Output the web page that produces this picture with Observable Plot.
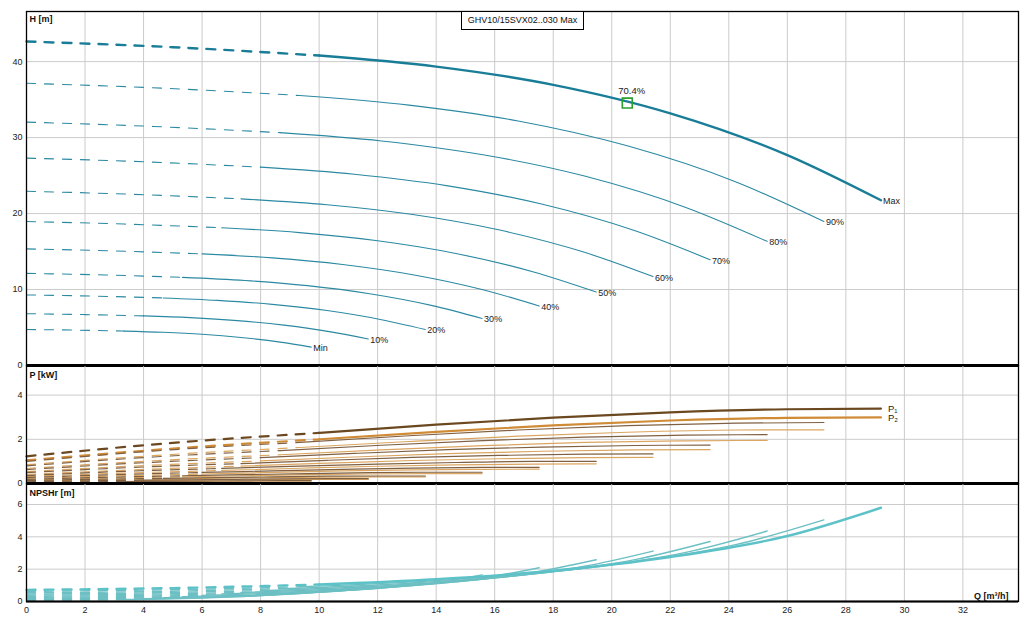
<!DOCTYPE html>
<html><head><meta charset="utf-8">
<script src="https://cdn.jsdelivr.net/npm/d3@7"></script>
<script src="https://cdn.jsdelivr.net/npm/@observablehq/plot@0.6"></script>
<style>
body{margin:0;background:#fff;font-family:"Liberation Sans",Arial,sans-serif;}
#chart{position:relative;width:1030px;height:630px;overflow:hidden;background:#fff;}
.panel{position:absolute;left:0;}
#title{position:absolute;left:461px;top:11px;width:121px;height:17px;border:1px solid #000;background:#fff;font-size:9px;line-height:17px;text-align:center;color:#111;}
</style></head><body>
<div id="chart">
 <div class="panel" id="pH" style="top:0"></div>
 <div class="panel" id="pP" style="top:365px"></div>
 <div class="panel" id="pN" style="top:483px"></div>
 <div id="title"></div>
</div>
<script>
// ---- texts ----
const chartTitle = "GHV10/15SVX02..030 Max";
const hTitle = "H [m]";
const pTitle = "P [kW]";
const nTitle = "NPSHr [m]";
const qTitle = "Q [m³/h]";
const pLabels = ["P₁", "P₂"];

// ---- ticks & domains ----
const qTicks = [0,2,4,6,8,10,12,14,16,18,20,22,24,26,28,30,32];
const hTicks = [0,10,20,30,40];
const pTicks = [0,2,4];
const nTicks = [0,2,4,6];
const qDomain = [0, 33.9];
const hDomain = [0, 46.6];
const pDomain = [0, 5.34];
const nDomain = [0, 7.3];

// ---- curve family ----
const curveLabels = ["Max","90%","80%","70%","60%","50%","40%","30%","20%","10%","Min"];
const solidFrom = 2; // point index where the dashed part ends and solid part starts

const qCurves = [
 [0,5,10,14,18,22,26,29.2],
 [0,4.67,9.33,13.07,16.8,20.53,24.27,27.25],
 [0,4.33,8.67,12.13,15.6,19.07,22.53,25.31],
 [0,4,8,11.2,14.4,17.6,20.8,23.36],
 [0,3.67,7.33,10.27,13.2,16.13,19.07,21.41],
 [0,3.33,6.67,9.33,12,14.67,17.33,19.47],
 [0,3,6,8.4,10.8,13.2,15.6,17.52],
 [0,2.67,5.33,7.47,9.6,11.73,13.87,15.57],
 [0,2.33,4.67,6.53,8.4,10.27,12.13,13.63],
 [0,2,4,5.6,7.2,8.8,10.4,11.68],
 [0,1.67,3.33,4.67,6,7.33,8.67,9.73]
];
const hCurves = [
 [42.65,41.9,40.8,39.35,36.95,33.2,27.7,21.75],
 [37.15,36.5,35.54,34.28,32.19,28.92,24.13,18.95],
 [32.04,31.47,30.65,29.56,27.75,24.94,20.81,16.34],
 [27.3,26.82,26.11,25.18,23.65,21.25,17.73,13.92],
 [22.94,22.53,21.94,21.16,19.87,17.86,14.9,11.7],
 [18.95,18.62,18.13,17.49,16.42,14.75,12.31,9.67],
 [15.35,15.08,14.69,14.17,13.3,11.95,9.97,7.83],
 [12.13,11.92,11.6,11.19,10.51,9.44,7.88,6.19],
 [9.29,9.13,8.89,8.57,8.05,7.23,6.03,4.74],
 [6.82,6.7,6.53,6.3,5.91,5.31,4.43,3.48],
 [4.74,4.66,4.53,4.37,4.11,3.69,3.08,2.42]
];
const p1Curves = [
 [1.23,1.84,2.29,2.66,2.98,3.22,3.36,3.39],
 [1.0,1.5,1.86,2.16,2.42,2.62,2.73,2.76],
 [0.8,1.2,1.49,1.73,1.94,2.1,2.19,2.21],
 [0.63,0.94,1.17,1.36,1.53,1.65,1.72,1.74],
 [0.49,0.73,0.9,1.05,1.18,1.27,1.33,1.34],
 [0.36,0.55,0.68,0.79,0.88,0.95,1.0,1.0],
 [0.27,0.4,0.5,0.57,0.64,0.7,0.73,0.73],
 [0.19,0.28,0.35,0.4,0.45,0.49,0.51,0.51],
 [0.13,0.19,0.23,0.27,0.3,0.33,0.34,0.34],
 [0.08,0.12,0.15,0.17,0.19,0.21,0.22,0.22],
 [0.05,0.07,0.09,0.1,0.11,0.12,0.13,0.13]
];
const p2Curves = [
 [1.05,1.58,2.0,2.34,2.63,2.85,2.97,2.99],
 [0.85,1.29,1.63,1.9,2.14,2.32,2.42,2.43],
 [0.68,1.03,1.3,1.52,1.71,1.86,1.93,1.95],
 [0.54,0.81,1.02,1.2,1.35,1.46,1.52,1.53],
 [0.41,0.62,0.79,0.92,1.04,1.12,1.17,1.18],
 [0.31,0.47,0.59,0.69,0.78,0.84,0.88,0.89],
 [0.23,0.34,0.43,0.5,0.57,0.62,0.64,0.65],
 [0.16,0.24,0.3,0.35,0.4,0.43,0.45,0.45],
 [0.11,0.16,0.2,0.24,0.27,0.29,0.3,0.3],
 [0.07,0.1,0.13,0.15,0.17,0.18,0.19,0.19],
 [0.04,0.06,0.07,0.09,0.1,0.11,0.11,0.11]
];
const npshCurves = [
 [0.72,0.83,1.05,1.38,1.9,2.75,4.05,5.8],
 [0.63,0.72,0.91,1.2,1.66,2.4,3.53,5.05],
 [0.54,0.62,0.79,1.04,1.43,2.07,3.04,4.36],
 [0.46,0.53,0.67,0.88,1.22,1.76,2.59,3.71],
 [0.39,0.45,0.56,0.74,1.02,1.48,2.18,3.12],
 [0.32,0.37,0.47,0.61,0.84,1.22,1.8,2.58],
 [0.26,0.3,0.38,0.5,0.68,0.99,1.46,2.09],
 [0.2,0.24,0.3,0.39,0.54,0.78,1.15,1.65],
 [0.16,0.18,0.23,0.3,0.41,0.6,0.88,1.26],
 [0.12,0.13,0.17,0.22,0.3,0.44,0.65,0.93],
 [0.08,0.09,0.12,0.15,0.21,0.31,0.45,0.64]
];

// operating point
const opQ = [20.53];
const opH = [34.55];
const opText = ["70.4%"];

// ---- table ----
const rows = curveLabels.flatMap((label, k) => qCurves[k].map((q, i) => ({
  k, label, i, q,
  h: hCurves[k][i], p1: p1Curves[k][i], p2: p2Curves[k][i], n: npshCurves[k][i],
  last: i === qCurves[k].length - 1
})));
const dashed = rows.filter(d => d.i <= solidFrom);
const solid = rows.filter(d => d.i >= solidFrom);
const ends = rows.filter(d => d.last);
const opRows = opQ.map((q, i) => ({q, h: opH[i], t: opText[i]}));

document.getElementById("title").textContent = chartTitle;

const FONT = '"Liberation Sans", Arial, sans-serif';
const GRID = "#cbcbcb";
const baseStyle = {fontFamily: FONT, fontSize: "9px", background: "transparent", overflow: "visible", color: "#222"};

function family(yKey, thinColor, maxColor, thinW, maxW) {
  const common = {x: "q", y: yKey, z: "k", curve: "monotone-x"};
  return [
    Plot.line(dashed.filter(d => d.k > 0), {...common, stroke: thinColor, strokeWidth: thinW, strokeDasharray: "9,9"}),
    Plot.line(solid.filter(d => d.k > 0), {...common, stroke: thinColor, strokeWidth: thinW}),
    Plot.line(dashed.filter(d => d.k === 0), {...common, stroke: maxColor, strokeWidth: maxW, strokeDasharray: "9,9"}),
    Plot.line(solid.filter(d => d.k === 0), {...common, stroke: maxColor, strokeWidth: maxW})
  ];
}

function panelTitle(txt, dy) {
  return Plot.text([txt], {frameAnchor: "top-left", textAnchor: "start", lineAnchor: "top", dx: 3, dy, fontWeight: "bold", fontSize: 9, fill: "#111"});
}

// ---- H panel ----
const plotH = Plot.plot({
  width: 1030, height: 365, marginTop: 11, marginBottom: 0, marginLeft: 26, marginRight: 12,
  style: baseStyle,
  x: {domain: qDomain, axis: null},
  y: {domain: hDomain, axis: null},
  marks: [
    Plot.gridX(qTicks, {stroke: GRID, strokeOpacity: 1}),
    Plot.gridY(hTicks, {stroke: GRID, strokeOpacity: 1}),
    Plot.axisY(hTicks, {tickSize: 0, tickPadding: 4, label: null, fontSize: 9}),
    ...family("h", "#2b89a2", "#1a7d98", 1.1, 2.4),
    Plot.text(ends, {x: "q", y: "h", text: "label", textAnchor: "start", dx: 2, dy: 1, fontSize: 9, fill: "#222"}),
    Plot.dot(opRows, {x: "q", y: "h", symbol: "square", r: 5.6, stroke: "#2ca02c", strokeWidth: 1.6, fill: "none"}),
    Plot.text(opRows, {x: "q", y: "h", text: "t", textAnchor: "start", dx: -9, dy: -12, fontSize: 9.5, fill: "#222"}),
    Plot.frame({stroke: "#000", strokeWidth: 1.3}),
    Plot.ruleY([0], {stroke: "#000", strokeWidth: 3}),
    panelTitle(hTitle, 4)
  ]
});
document.getElementById("pH").append(plotH);

// ---- P panel ----
const pEnds = ends.filter(d => d.k === 0);
const plotP = Plot.plot({
  width: 1030, height: 118, marginTop: 0, marginBottom: 0, marginLeft: 26, marginRight: 12,
  style: baseStyle,
  x: {domain: qDomain, axis: null},
  y: {domain: pDomain, axis: null},
  marks: [
    Plot.gridX(qTicks, {stroke: GRID, strokeOpacity: 1}),
    Plot.gridY(pTicks, {stroke: GRID, strokeOpacity: 1}),
    Plot.axisY(pTicks, {tickSize: 0, tickPadding: 4, label: null, fontSize: 9}),
    ...family("p2", "#dba661", "#d08b36", 1.2, 2.2),
    ...family("p1", "#7f6042", "#6b4820", 1.2, 2.2),
    Plot.text(pEnds, {x: "q", y: "p1", text: () => pLabels[0], textAnchor: "start", dx: 7, dy: 0, fontSize: 9.5, fill: "#222"}),
    Plot.text(pEnds, {x: "q", y: "p2", text: () => pLabels[1], textAnchor: "start", dx: 7, dy: 1, fontSize: 9.5, fill: "#222"}),
    Plot.frame({stroke: "#000", strokeWidth: 1.3}),
    Plot.ruleY([0], {stroke: "#000", strokeWidth: 3}),
    panelTitle(pTitle, 6)
  ]
});
document.getElementById("pP").append(plotP);

// ---- NPSH panel ----
const plotN = Plot.plot({
  width: 1030, height: 147, marginTop: 0, marginBottom: 29, marginLeft: 26, marginRight: 12,
  style: baseStyle,
  x: {domain: qDomain, axis: null},
  y: {domain: nDomain, axis: null},
  marks: [
    Plot.gridX(qTicks, {stroke: GRID, strokeOpacity: 1}),
    Plot.gridY(nTicks, {stroke: GRID, strokeOpacity: 1}),
    Plot.axisY(nTicks, {tickSize: 0, tickPadding: 4, label: null, fontSize: 9}),
    Plot.axisX(qTicks, {tickSize: 0, tickPadding: 5, label: null, fontSize: 9}),
    ...family("n", "#6cbfc3", "#5cc2c8", 1.4, 2.4),
    Plot.frame({stroke: "#000", strokeWidth: 1.3}),
    Plot.ruleY([0], {stroke: "#000", strokeWidth: 2}),
    panelTitle(nTitle, 6),
    Plot.text([qTitle], {frameAnchor: "bottom-right", textAnchor: "end", lineAnchor: "bottom", dx: -10, dy: -3, fontWeight: "bold", fontSize: 9, fill: "#111"})
  ]
});
document.getElementById("pN").append(plotN);
</script>
</body></html>
